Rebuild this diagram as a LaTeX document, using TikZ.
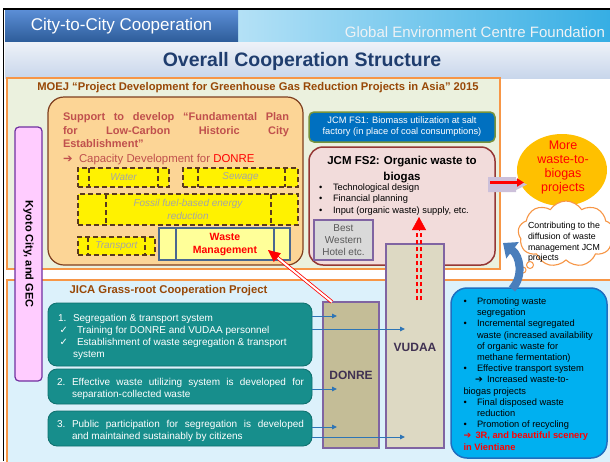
\documentclass[tikz,border=0pt]{standalone}
\usepackage{fontspec}
\setmainfont{Liberation Sans}
\newfontfamily\dejavu{DejaVu Sans}
\usetikzlibrary{shapes.geometric,shapes.symbols,arrows.meta,calc}
\definecolor{hdrtop}{HTML}{5B8ED6}
\definecolor{hdrbot}{HTML}{2D5C99}
\definecolor{hdrRl}{HTML}{B4E1F6}
\definecolor{hdrRr}{HTML}{36AEE4}
\definecolor{gectext}{HTML}{EEF2F5}
\definecolor{subtop}{HTML}{EEF2F8}
\definecolor{subbot}{HTML}{C8D6EB}
\definecolor{titlec}{HTML}{1F3D6E}
\definecolor{orangeln}{HTML}{F79646}
\definecolor{moejfill}{HTML}{EBF1DE}
\definecolor{jicafill}{HTML}{DCF1FB}
\definecolor{brownt}{HTML}{984807}
\definecolor{pinkc}{HTML}{FFCCFF}
\definecolor{purplec}{HTML}{7030A0}
\definecolor{supfill}{RGB}{252,213,150}
\definecolor{supborder}{HTML}{7F3F1F}
\definecolor{rose}{HTML}{C0504D}
\definecolor{dbrown}{HTML}{5B3A1E}
\definecolor{grayit}{HTML}{A5A5A5}
\definecolor{wmfill}{HTML}{FFFF99}
\definecolor{wmborder}{HTML}{4A6890}
\definecolor{fsone}{HTML}{0070C0}
\definecolor{fsoneb}{HTML}{77933C}
\definecolor{fstwo}{HTML}{F2DCDB}
\definecolor{fstwob}{HTML}{953735}
\definecolor{bwfill}{HTML}{D9D9D9}
\definecolor{bwtext}{HTML}{595959}
\definecolor{boxpurple}{HTML}{8064A2}
\definecolor{ellc}{HTML}{FFC000}
\definecolor{lavender}{HTML}{CCC0DA}
\definecolor{tealc}{HTML}{178E8C}
\definecolor{tealb}{HTML}{0E6F6D}
\definecolor{donrefill}{HTML}{C4BD97}
\definecolor{vudaafill}{HTML}{DDD9C3}
\definecolor{labelt}{HTML}{403152}
\definecolor{bboxc}{HTML}{00B0F0}
\definecolor{bboxb}{HTML}{1F6FC0}
\definecolor{arrblue}{HTML}{2E75B6}
\definecolor{curvc}{HTML}{4A7EBB}
\tikzset{
  every node/.style={inner sep=0pt, outer sep=0pt},
  nw/.style={anchor=north west},
  dproc/.style={anchor=north west, fill=yellow, draw=dbrown, line width=1.3pt, dash pattern=on 5pt off 3pt},
  dline/.style={draw=dbrown, line width=1.3pt, dash pattern=on 5pt off 3pt},
  ittxt/.style={text=grayit, font=\fontsize{10}{12}\selectfont\itshape, align=center},
  tealbox/.style={anchor=north west, fill=tealc, draw=tealb, line width=0.8pt, rounded corners=9pt},
  tealtxt/.style={anchor=north west, text=white, align=left, font=\fontsize{10}{12}\selectfont},
  bluearr/.style={draw=arrblue, line width=1pt, -{Triangle[length=5pt,width=4.5pt]}},
  orgbox/.style={anchor=north west, draw=boxpurple, line width=1.3pt},
}
\begin{document}
\begin{tikzpicture}[x=1pt,y=-1pt]
\useasboundingbox (0,0) rectangle (610,461);
\fill[white] (0,0) rectangle (610,461);
% header
\node[nw, minimum width=372pt, minimum height=32pt, left color=hdrRl, right color=hdrRr] (hdrR) at (238,10) {};
\node[nw, minimum width=233pt, minimum height=32pt, top color=hdrtop, bottom color=hdrbot] (hdrL) at (5,10) {};
\node[text=white, font=\fontsize{17}{20}\selectfont] (hdrLtxt) at (hdrL.center) {City-to-City Cooperation};
\node[anchor=base east, text=gectext, font=\fontsize{15}{17}\selectfont] (hdrRtxt) at (605,37.5) {Global Environment Centre Foundation};
\node[nw, minimum width=605pt, minimum height=36pt, top color=subtop, bottom color=subbot] (sub) at (5,42) {};
\node[text=titlec, font=\fontsize{19.5}{22}\selectfont\bfseries] (title) at (302,61) {Overall Cooperation Structure};
\draw[black, line width=1.6pt] (3.5,461) -- (3.5,9) -- (610,9);
% big boxes
\node[nw, minimum width=606pt, minimum height=190pt, fill=jicafill, draw=orangeln, line width=1.2pt] (jica) at (7,280) {};
\node[nw, minimum width=493pt, minimum height=191pt, fill=moejfill, draw=orangeln, line width=1.2pt] (moej) at (7,78) {};
\node[text=brownt, font=\fontsize{11.2}{13}\selectfont\bfseries] (moejt) at (258,88) {MOEJ “Project Development for Greenhouse Gas Reduction Projects in Asia” 2015};
\node[text=brownt, font=\fontsize{11.3}{13}\selectfont\bfseries] (jicat) at (168.5,291) {JICA Grass-root Cooperation Project};
% Kyoto sidebar
\node[nw, minimum width=27pt, minimum height=254pt, fill=pinkc, draw=purplec, line width=1.2pt, rounded corners=4pt] (kyoto) at (15,127) {};
\node[rotate=-90, font=\fontsize{11}{13}\selectfont\bfseries] (kyototxt) at (kyoto.center) {Kyoto City, and GEC};
% support box
\node[nw, minimum width=255pt, minimum height=168pt, fill=supfill, draw=supborder, line width=1.2pt, rounded corners=16pt] (support) at (48,97) {};
\node[nw, text=rose, align=left, font=\fontsize{11}{13.5}\selectfont\bfseries] (suptxt) at (63,113) {\makebox[226pt][s]{Support to develop “Fundamental Plan}\\\makebox[226pt][s]{for Low-Carbon Historic City}\\Establishment”};
\node[anchor=base west, text=rose, font=\fontsize{11.4}{13}\selectfont] (captxt) at (63,162) {\makebox[16pt][l]{\dejavu ➔}Capacity Development for {\color{red}DONRE}};
% dashed process boxes
\node[dproc, minimum width=91pt, minimum height=19pt] (water) at (78,168) {};
\draw[dline] ([xshift=11pt]water.north west) -- ([xshift=11pt]water.south west);
\draw[dline] ([xshift=-11pt]water.north east) -- ([xshift=-11pt]water.south east);
\node[ittxt] (watert) at (water.center) {Water};
\node[dproc, minimum width=115pt, minimum height=19pt] (sewage) at (183,168) {};
\draw[dline] ([xshift=15pt]sewage.north west) -- ([xshift=15pt]sewage.south west);
\draw[dline] ([xshift=-13pt]sewage.north east) -- ([xshift=-13pt]sewage.south east);
\node[ittxt] (sewaget) at (sewage.center) {Sewage};
\node[dproc, minimum width=220pt, minimum height=31pt] (fossil) at (78,194) {};
\draw[dline] ([xshift=28pt]fossil.north west) -- ([xshift=28pt]fossil.south west);
\draw[dline] ([xshift=-27pt]fossil.north east) -- ([xshift=-27pt]fossil.south east);
\node[ittxt, font=\fontsize{10}{12.5}\selectfont\itshape] (fossilt) at (fossil.center) {Fossil fuel-based energy\\reduction};
\node[dproc, minimum width=77pt, minimum height=18pt] (transport) at (78,237) {};
\draw[dline] ([xshift=10pt]transport.north west) -- ([xshift=10pt]transport.south west);
\draw[dline] ([xshift=-10pt]transport.north east) -- ([xshift=-10pt]transport.south east);
\node[ittxt] (transportt) at (transport.center) {Transport};
% waste management
\node[nw, minimum width=131pt, minimum height=32pt, fill=wmfill, draw=wmborder, line width=1.5pt] (waste) at (159,228) {};
\draw[wmborder, line width=1.5pt] ([xshift=17pt]waste.north west) -- ([xshift=17pt]waste.south west);
\draw[wmborder, line width=1.5pt] ([xshift=-16pt]waste.north east) -- ([xshift=-16pt]waste.south east);
\node[text=red, align=center, font=\fontsize{10.5}{13}\selectfont\bfseries] (wastet) at (225,244.5) {Waste\\Management};
% JCM FS1
\node[nw, minimum width=186pt, minimum height=30pt, fill=fsone, draw=fsoneb, line width=1.5pt, rounded corners=5pt] (fs1) at (309,112) {};
\node[text=white, align=center, font=\fontsize{9.3}{11}\selectfont] (fs1t) at (fs1.center) {JCM FS1: Biomass utilization at salt\\factory (in place of coal consumptions)};
% JCM FS2
\node[nw, minimum width=186pt, minimum height=118pt, fill=fstwo, draw=fstwob, line width=1.5pt, rounded corners=14pt] (fs2) at (309,147) {};
\node[align=center, font=\fontsize{11.5}{15.5}\selectfont\bfseries] (fs2t) at (402,169.5) {JCM FS2: Organic waste to\\biogas};
\node[nw, align=left, font=\fontsize{9.3}{11.3}\selectfont] (fs2b) at (319,183.7) {\makebox[14pt][l]{•}Technological design\\\makebox[14pt][l]{•}Financial planning\\\makebox[14pt][l]{•}Input (organic waste) supply, etc.};
% Best Western
\node[orgbox, minimum width=59pt, minimum height=40pt, fill=bwfill] (bw) at (314,220) {};
\node[text=bwtext, align=center, font=\fontsize{10}{12}\selectfont] (bwt) at (bw.center) {Best\\Western\\Hotel etc.};
% ellipse and arrow
\node[ellipse, minimum width=90pt, minimum height=72pt, fill=ellc] (more) at (562,170) {};
\node[text=red, align=center, font=\fontsize{12.5}{14.3}\selectfont] (moret) at (563,167.5) {More\\waste-to-\\biogas\\projects};
\fill[lavender] ([xshift=-7pt,yshift=29pt]fs2.east) -- ++(28,0) -- ++(0,2) -- ++(11,5.5) -- ++(-11,5.5) -- ++(0,2) -- ++(-28,0) -- cycle;
\draw[red, line width=2.6pt, -{Triangle[length=7pt,width=8pt]}] ([xshift=-5pt,yshift=23.5pt]fs2.east) -- ++(34,0);
% cloud
\node[cloud, cloud puffs=9, cloud puff arc=115, aspect=1.4, minimum width=96pt, minimum height=66pt, draw=orangeln, fill=white, line width=1.1pt] (cloud) at (566,234) {};
\node[nw, align=left, font=\fontsize{8.8}{10.7}\selectfont] (cloudt) at (528,222.5) {Contributing to the\\diffusion of waste\\management JCM\\projects};
\draw[orangeln, line width=1pt, fill=white] (530,265) circle (3.5pt);
\draw[orangeln, line width=1pt, fill=white] (523,270) circle (3pt);
% DONRE / VUDAA
\node[orgbox, minimum width=56pt, minimum height=146pt, fill=donrefill] (donre) at (323,302) {};
\node[text=labelt, font=\fontsize{12}{14}\selectfont\bfseries] (donret) at (351,375) {DONRE};
\node[orgbox, minimum width=58pt, minimum height=204pt, fill=vudaafill] (vudaa) at (386,244) {};
\node[text=labelt, font=\fontsize{12}{14}\selectfont\bfseries] (vudaat) at (415,347) {VUDAA};
% red dashed arrow up into FS2
\draw[red, line width=1.3pt, dash pattern=on 4pt off 3pt] ([xshift=2pt,yshift=-56pt]vudaa.north) -- ([xshift=2pt,yshift=12pt]vudaa.north);
\draw[red, line width=1.3pt, dash pattern=on 4pt off 3pt] ([xshift=6pt,yshift=-56pt]vudaa.north) -- ([xshift=6pt,yshift=12pt]vudaa.north);
\draw[red, line width=0.5pt, -{Triangle[length=13pt,width=14pt]}] ([xshift=4pt,yshift=13pt]vudaa.north) -- ([xshift=4pt,yshift=27pt]vudaa.north);
% red double arrow DONRE -> waste management
\coordinate (dtail) at ([xshift=9pt]donre.north west);
\coordinate (wmtip) at ([xshift=43.5pt,yshift=-6pt]waste.center);
\draw[draw=red, line width=0.8pt, double=white, double distance=2pt] (dtail) -- ($(wmtip)!10pt!(dtail)$);
\draw[red, line width=0.5pt, -{Triangle[length=12pt,width=11pt]}] ($(wmtip)!13pt!(dtail)$) -- (wmtip);
% teal boxes
\node[tealbox, minimum width=264pt, minimum height=63pt] (teal1) at (48,303) {};
\node[tealbox, minimum width=264pt, minimum height=35pt] (teal2) at (48,369) {};
\node[tealbox, minimum width=264pt, minimum height=35pt] (teal3) at (48,411) {};
\node[tealtxt] (teal1t) at (58,314.2) {\makebox[15pt][l]{1.}Segregation \& transport system\\\hspace*{1.5pt}\makebox[17.5pt][l]{\dejavu ✓}Training for DONRE and VUDAA personnel\\\hspace*{1.5pt}\makebox[17.5pt][l]{\dejavu ✓}Establishment of waste segregation \& transport\\\hspace*{15pt}system};
\node[tealtxt] (teal2t) at (57,378.2) {\makebox[15pt][l]{2.}\makebox[232pt][s]{Effective waste utilizing system is developed for}\\\hspace*{15pt}separation-collected waste};
\node[tealtxt] (teal3t) at (57,420.2) {\makebox[15pt][l]{3.}\makebox[232pt][s]{Public participation for segregation is developed}\\\hspace*{15pt}and maintained sustainably by citizens};
% blue arrows
\draw[bluearr] ([yshift=18.5pt]teal1.east) -- ++(25,0);
\draw[bluearr] ([yshift=5.5pt]teal1.east) -- ++(93,0);
\draw[bluearr] ([yshift=-2.5pt]teal2.east) -- ++(25,0);
\draw[bluearr] ([yshift=1.5pt]teal3.east) -- ++(25,0);
\draw[bluearr] ([yshift=-8.5pt]teal3.east) -- ++(93,0);
% blue box
\node[nw, minimum width=156pt, minimum height=170pt, fill=bboxc, draw=bboxb, line width=1.5pt, rounded corners=16pt] (bluebox) at (451,288) {};
\draw[line width=8pt, draw=curvc, -{Triangle[length=12pt,width=20pt]}] ([xshift=-17pt,yshift=-1pt]bluebox.north) .. controls +(12,-13) and +(17,13) .. (503,243);
\node[nw, align=left, font=\fontsize{9.3}{11.2}\selectfont] (bluet) at (463.5,297.7) {\makebox[13.5pt][l]{•}Promoting waste\\\hspace*{13.5pt}segregation\\\makebox[13.5pt][l]{•}Incremental segregated\\\hspace*{13.5pt}waste (increased availability\\\hspace*{13.5pt}of organic waste for\\\hspace*{13.5pt}methane fermentation)\\\makebox[13.5pt][l]{•}Effective transport system\\\hspace*{11.5pt}\makebox[12pt][l]{\dejavu ➔}Increased waste-to-\\biogas projects\\\makebox[13.5pt][l]{•}Final disposed waste\\\hspace*{13.5pt}reduction\\\makebox[13.5pt][l]{•}Promotion of recycling\\{\color{red}\bfseries\makebox[12pt][l]{\dejavu\bfseries ➔}3R, and beautiful scenery}\\{\color{red}\bfseries in Vientiane}};
\end{tikzpicture}
\end{document}
